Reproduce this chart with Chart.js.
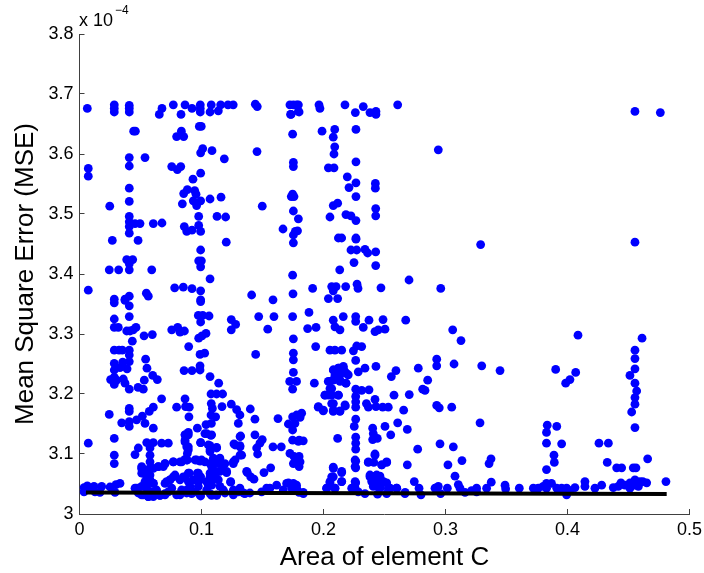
<!DOCTYPE html>
<html>
<head>
<meta charset="utf-8">
<title>MSE vs area of element C</title>
<script src="https://cdn.jsdelivr.net/npm/chart.js@4/dist/chart.umd.min.js"></script>
<style>
    html, body { margin: 0; padding: 0; background: #fff; }
    #wrap { width: 704px; height: 573px; }
</style>
</head>
<body>
<div id="wrap"><canvas id="chart" width="704" height="573"></canvas></div>
<script>
// values: [area of element C, MSE in units of 1e-4]
const upperLeft = [
    [.0064,3.676],[.0285,3.682],[.0285,3.676],[.0285,3.670],[.0408,3.681],[.0408,3.676],[.0408,3.670],[.0676,3.676],[.0654,3.666],
    [.0769,3.682],[.0832,3.666],[.0865,3.682],[.0922,3.676],[.099,3.682],[.099,3.676],[.099,3.670],[.107,3.670],[.108,3.682],
    [.1138,3.672],[.1157,3.682],[.1217,3.682],[.126,3.682],[.1441,3.683],[.1457,3.679],[.1725,3.682],[.173,3.666],[.178,3.682],[.18,3.670],
    [.0444,3.638],[.0458,3.638],[.0982,3.646],[.0998,3.646],[.0835,3.638],[.0796,3.629],[.0854,3.629],[.1747,3.633],[.101,3.609],
    [.0993,3.602],[.1086,3.6055],[.1187,3.592],[.1455,3.604],[.0408,3.594],[.0408,3.580],[.0537,3.594],[.0072,3.576],[.0072,3.563],
    [.0756,3.579],[.0802,3.574],[.083,3.579],[.1753,3.586],[.1753,3.579],[.0993,3.568],[.093,3.558],[.0408,3.543],[.0408,3.521],
    [.0248,3.513],[.0884,3.5405],[.0854,3.534],[.0944,3.539],[.0955,3.533],[.0933,3.522],[.0993,3.522],[.096,3.514],[.0843,3.517],
    [.107,3.525],[.116,3.528],[.1498,3.513],[.1736,3.529],[.1758,3.529],[.1747,3.533],[.1753,3.505],[.1794,3.492],
    [.0408,3.496],[.0408,3.487],[.0408,3.479],[.0408,3.468],[.0455,3.484],[.0496,3.484],[.0605,3.484],[.0676,3.485],[.0269,3.456],
    [.048,3.456],[.0977,3.496],[.0977,3.481],[.0859,3.479],[.0879,3.471],[.0922,3.473],[.0993,3.471],[.1127,3.496],[.1198,3.495],
    [.1203,3.453],[.1668,3.475],[.1753,3.465],[.1769,3.471],[.1787,3.472],[.1753,3.452],[.0993,3.440],[.0387,3.424],[.0436,3.424],
    [.0408,3.417],[.0408,3.407],[.0244,3.407],[.0321,3.407],[.0592,3.407],[.0977,3.422],[.0999,3.422],[.0993,3.412],[.107,3.392],
    [.0072,3.373],[.078,3.377],[.0851,3.378],[.0922,3.3755],[.0993,3.372],[.1747,3.398],[.175,3.367],[.1411,3.365],[.1586,3.357],
    [.0548,3.368],[.0564,3.363],[.0408,3.363],[.0373,3.358],[.0285,3.358],[.0993,3.357]
];
const lowerLeft = [
    [.0285,3.352],[.0408,3.347],[.0373,3.356],[.0993,3.354],[.0285,3.325],[.0285,3.311],[.0318,3.311],[.0408,3.329],[.0387,3.305],
    [.0414,3.305],[.044,3.307],[.0463,3.311],[.0529,3.297],[.0597,3.299],[.0433,3.288],[.0756,3.307],[.0805,3.311],[.0824,3.303],
    [.086,3.305],[.0974,3.331],[.101,3.331],[.0993,3.320],[.1062,3.330],[.1244,3.324],[.128,3.316],[.1244,3.307],[.0977,3.293],
    [.1004,3.297],[.1037,3.301],[.1469,3.329],[.1594,3.329],[.1543,3.308],[.1747,3.329],[.1753,3.292],[.0895,3.279],[.0285,3.273],
    [.0324,3.273],[.0351,3.273],[.0408,3.273],[.0408,3.265],[.0408,3.254],[.039,3.242],[.1444,3.266],[.0988,3.266],[.1026,3.268],
    [.1753,3.268],[.1753,3.257],[.1753,3.236],[.0542,3.258],[.0553,3.243],[.0285,3.251],[.0354,3.253],[.0285,3.240],[.0332,3.244],
    [.0285,3.228],[.0255,3.224],[.0285,3.216],[.0304,3.223],[.0359,3.225],[.0373,3.218],[.0408,3.208],[.048,3.211],[.0523,3.208],
    [.0531,3.223],[.06,3.231],[.0638,3.224],[.0857,3.239],[.0922,3.239],[.0988,3.247],[.0988,3.240],[.107,3.229],[.1141,3.218],
    [.1078,3.200],[.1124,3.200],[.1173,3.200],[.1723,3.221],[.1779,3.221],[.1747,3.208],[.0673,3.192],[.0865,3.192],[.0796,3.178],
    [.0869,3.179],[.09,3.178],[.108,3.184],[.1089,3.176],[.1168,3.179],[.1244,3.183],[.1288,3.174],[.1315,3.165],[.0408,3.176],
    [.0408,3.171],[.0605,3.178],[.0572,3.171],[.0244,3.166],[.14,3.175],[.1438,3.158],[.1627,3.159],[.0897,3.162],[.1078,3.165],
    [.1116,3.162],[.0346,3.152],[.0408,3.154],[.0468,3.157],[.0515,3.163],[.0408,3.146],[.0537,3.151],[.0605,3.143],[.1037,3.149],
    [.1081,3.151],[.0966,3.143],[.1302,3.151],[.1712,3.150],[.1747,3.162],[.178,3.165],[.1747,3.140],[.1766,3.151],[.0285,3.126],
    [.0072,3.118],[.0865,3.132],[.0892,3.136],[.0865,3.123],[.0879,3.112],[.0884,3.101],[.0865,3.091],[.1028,3.134],[.1077,3.131],
    [.1321,3.130],[.1266,3.117],[.1315,3.114],[.1329,3.098],[.1261,3.087],[.1438,3.132],[.1498,3.124],[.1479,3.118],[.1452,3.110],
    [.146,3.100],[.1586,3.112],[.1654,3.112],[.1747,3.123],[.18,3.123],[.0551,3.119],[.0605,3.119],[.0673,3.118],[.0728,3.118],
    [.0482,3.110],[.0455,3.099],[.0578,3.110],[.0578,3.098],[.0578,3.087],[.0578,3.076],[.0578,3.065],[.051,3.079],[.051,3.068],
    [.0285,3.098],[.0285,3.084],[.0993,3.119],[.107,3.114],[.1124,3.110],[.107,3.104],[.1097,3.093],[.1097,3.082],[.1111,3.071],
    [.1028,3.087],[.107,3.084],[.1138,3.084],[.1192,3.084],[.1206,3.069],[.0701,3.084],[.0769,3.087],[.0824,3.087],[.0884,3.090],
    [.0947,3.090],[.0988,3.088],[.0687,3.079],[.0646,3.079],[.0742,3.057],[.0783,3.065],[.0824,3.057],[.0865,3.062],[.09,3.068],
    [.0966,3.068],[.0993,3.062],[.0947,3.057],[.0892,3.054],[.1376,3.069],[.1403,3.062],[.143,3.058],[.1512,3.069],[.1567,3.077],
    [.1725,3.101],[.1758,3.096],[.1753,3.084],[.18,3.096],[.18,3.079]
];
const upperRight = [
    [.1794,3.682],[.1753,3.682],[.1794,3.671],[.1734,3.666],[.1963,3.682],[.1971,3.676],[.2176,3.682],[.2326,3.679],[.2261,3.669],
    [.2381,3.669],[.243,3.671],[.243,3.666],[.2608,3.682],[.4553,3.671],[.4761,3.669],[.1988,3.638],[.2092,3.641],[.208,3.628],
    [.2266,3.641],[.2092,3.612],[.2086,3.600],[.2941,3.607],[.2266,3.587],[.204,3.577],[.2086,3.577],[.2195,3.562],[.2266,3.552],
    [.2209,3.544],[.2425,3.551],[.2425,3.543],[.2266,3.529],[.2116,3.518],[.208,3.514],[.2184,3.499],[.2225,3.497],[.2266,3.489],
    [.2053,3.495],[.2428,3.509],[.2428,3.497],[.2122,3.460],[.2149,3.460],[.2266,3.460],[.2266,3.458],[.2225,3.440],[.2272,3.440],
    [.234,3.441],[.2362,3.435],[.2428,3.437],[.3288,3.449],[.4553,3.453],[.225,3.419],[.2428,3.414],[.2133,3.407],[.2701,3.390],
    [.1911,3.376],[.2067,3.379],[.2103,3.379],[.208,3.372],[.2182,3.379],[.2275,3.383],[.2283,3.376],[.2471,3.377],[.2961,3.376],
    [.204,3.359],[.2116,3.359]
];
const lowerRight = [
    [.1881,3.336],[.208,3.323],[.2162,3.329],[.2264,3.329],[.2264,3.321],[.2373,3.323],[.2488,3.324],[.2674,3.323],[.187,3.309],
    [.1939,3.311],[.2094,3.312],[.2135,3.307],[.2326,3.311],[.2422,3.304],[.2449,3.307],[.2504,3.308],[.3059,3.307],[.3127,3.289],
    [.4086,3.298],[.4611,3.293],[.1936,3.279],[.2053,3.273],[.2094,3.273],[.2149,3.273],[.2245,3.272],[.2272,3.280],[.2313,3.279],
    [.4553,3.273],[.4553,3.259],[.2928,3.258],[.2928,3.247],[.307,3.250],[.3297,3.247],[.3447,3.239],[.3903,3.241],[.4067,3.236],
    [.402,3.224],[.3985,3.218],[.4553,3.242],[.4512,3.231],[.4553,3.218],[.4567,3.205],[.4553,3.194],[.4553,3.183],[.4526,3.170],
    [.4553,3.144],[.2264,3.256],[.234,3.243],[.243,3.246],[.2285,3.237],[.2594,3.239],[.2556,3.229],[.2777,3.243],[.2854,3.223],
    [.208,3.240],[.2122,3.243],[.2162,3.243],[.2094,3.232],[.2135,3.232],[.2176,3.237],[.2203,3.232],[.2039,3.221],[.208,3.223],
    [.2135,3.221],[.2184,3.218],[.1925,3.218],[.2053,3.209],[.2012,3.198],[.2067,3.198],[.2122,3.198],[.2264,3.208],[.2264,3.196],
    [.2313,3.206],[.2373,3.207],[.2578,3.198],[.2703,3.199],[.2813,3.208],[.2832,3.206],[.2264,3.187],[.2264,3.178],[.2352,3.184],
    [.2368,3.178],[.2422,3.191],[.243,3.179],[.2485,3.178],[.2531,3.178],[.1957,3.178],[.1998,3.172],[.2067,3.184],[.208,3.171],
    [.2135,3.172],[.2179,3.180],[.2657,3.173],[.2928,3.181],[.2949,3.177],[.3051,3.178],[.1821,3.168],[.1808,3.161],[.2264,3.158],
    [.2252,3.146],[.2403,3.143],[.2408,3.134],[.2403,3.124],[.2441,3.126],[.2504,3.146],[.2608,3.152],[.2687,3.141],[.2551,3.132],
    [.3283,3.152],[.3834,3.148],[.3912,3.146],[.3828,3.136],[.3828,3.118],[.3952,3.117],[.3889,3.098],[.3892,3.086],[.3828,3.074],
    [.1794,3.121],[.1834,3.122],[.2116,3.126],[.2264,3.128],[.2264,3.118],[.2264,3.108],[.2955,3.117],[.3064,3.112],[.2772,3.108],
    [.4258,3.118],[.4335,3.118],[.4326,3.086],[.4403,3.077],[.4444,3.077],[.4539,3.077],[.4561,3.077],[.4657,3.092],[.4807,3.054],
    [.3135,3.089],[.302,3.082],[.3373,3.092],[.3357,3.084],[.2687,3.082],[.2422,3.100],[.2367,3.086],[.2412,3.086],[.2477,3.082],
    [.2518,3.086],[.2264,3.088],[.2264,3.077],[.208,3.078],[.2149,3.069],[.208,3.062],[.2149,3.054],[.1779,3.093],[.1808,3.087],
    [.3078,3.063],[.3105,3.049],[.3119,3.043],[.2744,3.054],[.2783,3.043]
];
const nearFrontier = [
    [.0037,3.044],[.0037,3.037],[.0064,3.047],[.0086,3.043],[.0119,3.046],[.0127,3.037],[.0168,3.036],[.0182,3.046],[.025,3.045],
    [.0299,3.049],[.0332,3.051],[.0291,3.036],[.0455,3.043],[.0482,3.035],[.051,3.046],[.0523,3.032],[.0551,3.043],[.0564,3.029],
    [.0592,3.037],[.0605,3.029],[.0632,3.040],[.066,3.031],[.0701,3.032],[.0728,3.037],[.0714,3.054],[.0756,3.043],[.0796,3.032],
    [.0837,3.040],[.0878,3.035],[.0906,3.046],[.0947,3.037],[.0974,3.046],[.0993,3.030],[.1042,3.040],[.1083,3.031],[.1083,3.048],
    [.1124,3.031],[.1151,3.046],[.1192,3.035],[.1239,3.053],[.1261,3.040],[.1315,3.043],[.1343,3.035],[.1397,3.035],[.1493,3.037],
    [.1534,3.043],[.1561,3.043],[.1616,3.048],[.167,3.040],[.1712,3.052],[.1753,3.048],[.178,3.043],[.18,3.036],[.0551,3.062],
    [.0578,3.054],[.0537,3.051],[.0605,3.051],[.107,3.062],[.1124,3.059],[.1042,3.054],[.2053,3.052],[.2026,3.043],[.2094,3.043],
    [.1753,3.051],[.1779,3.048],[.1739,3.043],[.1834,3.036],[.2264,3.052],[.2231,3.043],[.2285,3.037],[.234,3.034],[.2381,3.062],
    [.2422,3.063],[.2463,3.063],[.2395,3.054],[.2436,3.054],[.249,3.054],[.2518,3.052],[.2408,3.046],[.2463,3.046],[.2531,3.043],
    [.2443,3.033],[.2518,3.034],[.26,3.043],[.2669,3.036],[.2799,3.032],[.2914,3.043],[.2941,3.046],[.3015,3.043],[.296,3.034],
    [.316,3.036],[.3214,3.039],[.3255,3.043],[.3255,3.037],[.3337,3.043],[.3375,3.053],[.3488,3.048],[.3493,3.042],[.3605,3.043],
    [.372,3.043],[.376,3.043],[.3801,3.046],[.3828,3.051],[.3869,3.051],[.3828,3.043],[.3912,3.043],[.3952,3.043],[.3993,3.043],
    [.3993,3.032],[.4061,3.044],[.402,3.039],[.4143,3.054],[.4143,3.046],[.4225,3.043],[.428,3.048],[.4375,3.044],[.4416,3.046],
    [.4438,3.052],[.4471,3.048],[.4512,3.052],[.4512,3.043],[.4553,3.057],[.4553,3.048],[.4581,3.046],[.4594,3.054],[.4617,3.054],[.4649,3.052]
];
const denseLeft = [
    [.0468,3.043],[.0509,3.032],[.0564,3.029],[.0605,3.032],[.066,3.031],[.0701,3.034],[.0824,3.032],[.0878,3.040],[.0919,3.034],
    [.0988,3.032],[.107,3.034],[.1124,3.032],[.1179,3.040],[.1261,3.032],[.1302,3.037],[.1356,3.034],[.0537,3.054],[.0578,3.057],
    [.0605,3.051],[.0523,3.068],[.0509,3.076],[.0551,3.073],[.0605,3.076],[.0646,3.079],[.0701,3.084],[.0769,3.087],[.0837,3.087],
    [.0878,3.090],[.096,3.090],[.1001,3.090],[.1083,3.079],[.1124,3.090],[.107,3.068],[.1111,3.068],[.1151,3.071],[.1083,3.057],
    [.1138,3.057],[.1056,3.048],[.0851,3.062],[.0892,3.068],[.0933,3.057],[.0974,3.068],[.0988,3.057],[.0742,3.057],[.0769,3.062],
    [.0701,3.051],[.1179,3.082],[.1206,3.071],[.1261,3.084],[.1275,3.090],[.1239,3.054],[.0865,3.132],[.0892,3.132],[.0865,3.120],
    [.0892,3.112],[.0892,3.107],[.1043,3.134],[.1083,3.132],[.0993,3.119],[.1056,3.115],[.1124,3.111],[.107,3.107],[.1151,3.093],
    [.1316,3.129],[.1275,3.115],[.1316,3.112],[.1316,3.098],[.137,3.071]
];
const denseRight = [
    [.2081,3.240],[.2122,3.243],[.2163,3.246],[.219,3.234],[.2094,3.229],[.2135,3.223],[.2053,3.221],[.2184,3.218],[.2067,3.209],
    [.204,3.198],[.2012,3.198],[.2122,3.198],[.2081,3.184],[.1958,3.179],[.1999,3.173],[.2081,3.173],[.2135,3.171],[.2176,3.182],
    [.2081,3.076],[.2149,3.071],[.2149,3.054],[.2053,3.054],[.2026,3.043],[.2094,3.043],[.2067,3.062],[.1698,3.051],[.1753,3.048],
    [.1835,3.034],[.2259,3.043],[.2259,3.054],[.2259,3.090],[.2259,3.079],[.2368,3.087],[.2422,3.098],[.2477,3.082],[.2518,3.087],
    [.2381,3.065],[.2436,3.065],[.249,3.054],[.2409,3.051],[.2463,3.043],[.2546,3.043],[.26,3.043],[.2668,3.034]
];
const frontierX = [0.0053, 0.4813];
const frontierY = [3.036, 3.0335];
const xTickLabels = ['0', '0.1', '0.2', '0.3', '0.4', '0.5'];
const yTickLabels = ['3', '3.1', '3.2', '3.3', '3.4', '3.5', '3.6', '3.7', '3.8'];

const FONT = '"Liberation Sans", Arial, sans-serif';
const AXIS_COLOR = '#404040';

const scatterPoints = [...upperLeft, ...lowerLeft, ...upperRight, ...lowerRight, ...nearFrontier, ...denseLeft, ...denseRight]
    .map(p => ({ x: p[0], y: p[1] }));

// the "x 10^-4" multiplier above the y axis
const exponentLabel = {
    id: 'exponentLabel',
    afterDraw(chart) {
        const ctx = chart.ctx;
        ctx.save();
        ctx.fillStyle = '#000';
        ctx.textBaseline = 'alphabetic';
        ctx.font = '18px ' + FONT;
        ctx.fillText('x 10', 79, 26);
        ctx.font = '12px ' + FONT;
        ctx.fillText('\u22124', 115, 14);
        ctx.restore();
    }
};

new Chart(document.getElementById('chart'), {
    type: 'scatter',
    data: {
        datasets: [{
            label: 'Frontier',
            data: frontierX.map((x, i) => ({ x: x, y: frontierY[i] })),
            showLine: true,
            pointRadius: 0,
            borderColor: '#000',
            borderWidth: 4
        }, {
            label: 'Designs',
            data: scatterPoints,
            pointRadius: 4.4,
            pointBorderWidth: 0,
            pointBackgroundColor: '#0000ff'
        }]
    },
    options: {
        responsive: false,
        animation: false,
        layout: { padding: { top: 34, right: 14.5, left: 0, bottom: 0 } },
        plugins: { legend: { display: false }, tooltip: { enabled: false } },
        scales: {
            x: {
                type: 'linear',
                min: 0,
                max: 0.5,
                // keep the plot box where the reference has it, labels may overhang
                afterFit: (scale) => { scale.height = 59; scale.paddingRight = 0; scale.paddingLeft = 0; },
                border: { color: AXIS_COLOR, width: 1 },
                grid: { drawOnChartArea: false, tickLength: -5, tickColor: AXIS_COLOR },
                ticks: {
                    stepSize: 0.1,
                    maxRotation: 0,
                    padding: 10,
                    color: '#000',
                    font: { family: FONT, size: 18 },
                    callback: (v, i) => xTickLabels[i]
                },
                title: {
                    display: true,
                    text: 'Area of element C',
                    color: '#000',
                    font: { family: FONT, size: 26 },
                    padding: { top: 0, bottom: 0 }
                }
            },
            y: {
                type: 'linear',
                min: 3,
                max: 3.8,
                afterFit: (scale) => { scale.width = 79.5; scale.paddingTop = 0; scale.paddingBottom = 0; },
                border: { color: AXIS_COLOR, width: 1 },
                grid: { drawOnChartArea: false, tickLength: -5, tickColor: AXIS_COLOR },
                ticks: {
                    stepSize: 0.1,
                    padding: 11,
                    color: '#000',
                    font: { family: FONT, size: 18 },
                    callback: (v, i) => yTickLabels[i]
                },
                title: {
                    display: true,
                    text: 'Mean Square Error (MSE)',
                    color: '#000',
                    font: { family: FONT, size: 26 },
                    padding: { top: 10, bottom: 0 }
                }
            }
        }
    },
    plugins: [exponentLabel]
});
</script>
</body>
</html>
